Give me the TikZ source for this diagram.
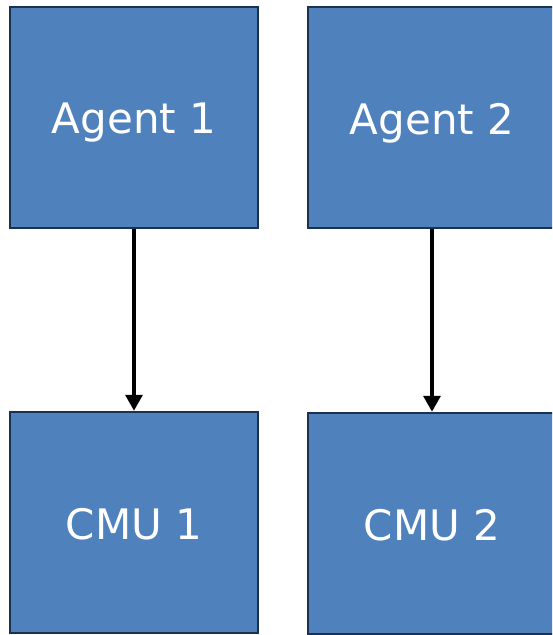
\documentclass[tikz,border=0pt]{standalone}
\usepackage{fontspec}
\setmainfont{DejaVu Sans}
\usetikzlibrary{arrows.meta}
\definecolor{boxfill}{HTML}{4F81BD}
\definecolor{boxline}{HTML}{1B3150}
\begin{document}
\begin{tikzpicture}[x=1pt,y=-1pt,
  blk/.style={draw=boxline,line width=2.5pt,fill=boxfill,text=white,
    minimum width=248pt,minimum height=221pt,inner sep=0pt,text depth=0pt,
    font=\fontsize{42}{50}\selectfont},
  conn/.style={line width=3.4pt,-{Triangle[length=16pt,width=17pt]}}]
\useasboundingbox (0,0) rectangle (552,635);
\clip (0,0) rectangle (552,635);
\node[blk] (a1) at (134,117.5) {\raisebox{-2pt}{Agent 1}};
\node[blk] (a2) at (432,117.5) {\raisebox{-2pt}{Agent 2}};
\node[blk] (c1) at (134,522.5) {\raisebox{-2pt}{CMU 1}};
\node[blk] (c2) at (432,523.5) {\raisebox{-2pt}{CMU 2}};
\draw[conn] (a1.south) -- (c1.north);
\draw[conn] (a2.south) -- (c2.north);
\end{tikzpicture}
\end{document}
